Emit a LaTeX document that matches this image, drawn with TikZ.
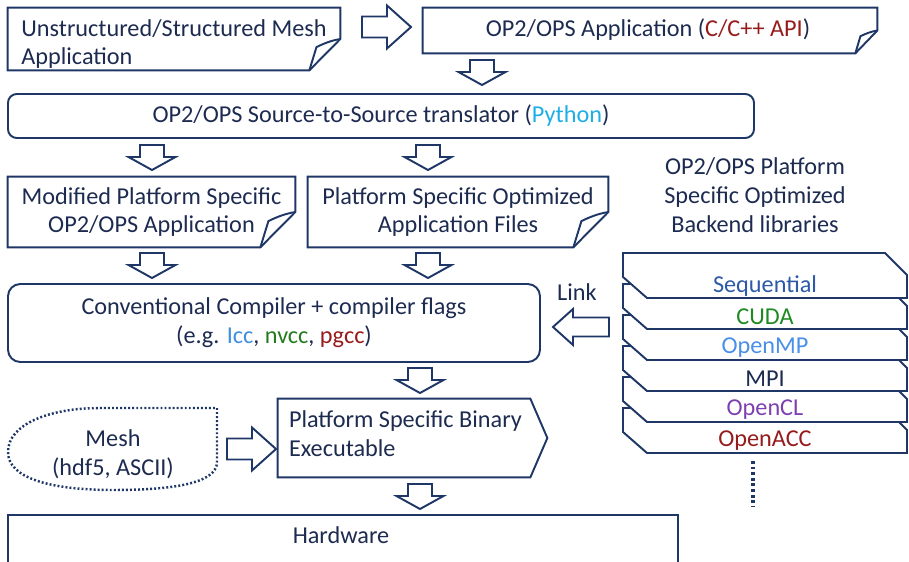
\documentclass[tikz,border=0pt]{standalone}
\usepackage{fontspec}
\setmainfont{Carlito}
\usetikzlibrary{calc}
\usetikzlibrary{fit}
\usetikzlibrary{positioning}

\definecolor{navy}{HTML}{1D2B50}
\definecolor{lineblue}{HTML}{1F3766}
\definecolor{apired}{HTML}{961C1C}
\definecolor{pyblue}{HTML}{1EAEE6}
\definecolor{iccblue}{HTML}{3D8FE0}
\definecolor{nvgreen}{HTML}{247A1F}
\definecolor{seqblue}{HTML}{2D5AA8}
\definecolor{cudagreen}{HTML}{1F8A22}
\definecolor{ompblue}{HTML}{4A8FE8}
\definecolor{clpurple}{HTML}{7D40B0}

\tikzset{
  boxline/.style={draw=lineblue, line width=1.1pt, line join=miter},
  box/.style={inner sep=0pt},
  roundbox/.style={box, boxline, rounded corners=#1},
  txt/.style={inner sep=0pt, align=center, text=navy},
  pics/downarrow/.style={code={
    \draw[boxline] (-12,0) -- (12,0) -- (12,12) -- (23.5,12) -- (0,25)
      -- (-23.5,12) -- (-12,12) -- cycle;}},
  pics/rightarrow/.style={code={
    \draw[boxline] (0,-10.5) -- (25,-10.5) -- (25,-21.5) -- (49,0)
      -- (25,21.5) -- (25,10.5) -- (0,10.5) -- cycle;}},
  pics/leftarrow/.style={code={
    \draw[boxline] (0,0) -- (20,-18) -- (20,-9.5) -- (56,-9.5)
      -- (56,9.5) -- (20,9.5) -- (20,18) -- cycle;}},
}

% page outline with a dog-eared bottom right corner
\newcommand{\foldbox}[2]{%
  \draw[boxline] (#1.north west) -- (#1.north east) -- (#1.east)
    -- ($(#1.south east)+(-#2,0)$) -- (#1.south west) -- cycle;
  \draw[boxline] (#1.east) .. controls +(-0.3*#2,0.05*#2) and +(0.25*#2,-0.12*#2) ..
    ($(#1.east)+(-0.77*#2,0.26*#2)$) -- ($(#1.south east)+(-#2,0)$);
}

\begin{document}
\begin{tikzpicture}[x=0.02cm, y=-0.02cm, font=\fontsize{13.8}{16.4}\selectfont]
  \useasboundingbox (0,0) rectangle (909,561);
  \clip (0,0) rectangle (909,561);

  % input application and its OP2/OPS version
  \node[box, fit={(8,8) (340,70)}] (src) {};
  \foldbox{src}{31}
  \node[txt, align=left] (src-text) at ($(src.center)+(0,5)$)
    {Unstructured/Structured Mesh\\Application};
  \pic at (362,27) {rightarrow};
  \node[box, fit={(423,8) (877,53)}] (opapp) {};
  \foldbox{opapp}{22}
  \node[txt] (opapp-text) at ($(opapp.center)+(-2,-1)$)
    {OP2/OPS Application (\textcolor{apired}{C/C++ API})};
  \pic at (482,60) {downarrow};

  % translator
  \node[roundbox=5pt, fit={(8,94) (754,138)}] (trans) {};
  \node[txt] (trans-text) at (trans.center)
    {OP2/OPS Source-to-Source translator (\textcolor{pyblue}{Python})};
  \pic at (152,145) {downarrow};
  \pic at (428,145) {downarrow};

  % generated code
  \node[box, fit={(8,177) (295,247)}] (modapp) {};
  \foldbox{modapp}{35}
  \node[txt] (modapp-text) at (modapp.center)
    {Modified Platform Specific\\OP2/OPS Application};
  \node[box, fit={(308,177) (608,247)}] (optfiles) {};
  \foldbox{optfiles}{35}
  \node[txt] (optfiles-text) at (optfiles.center)
    {Platform Specific Optimized\\Application Files};
  \pic at (152,253) {downarrow};
  \pic at (428,253) {downarrow};

  % compiler
  \node[roundbox=7pt, fit={(8,284) (540,362)}] (compiler) {};
  \node[txt] (compiler-text) at (compiler.center)
    {Conventional Compiler + compiler flags\\
     (e.g. \textcolor{iccblue}{Icc}, \textcolor{nvgreen}{nvcc}, \textcolor{apired}{pgcc})};
  \pic at (553,327) {leftarrow};
  \node[txt] (link) at (577,292) {Link};
  \pic at (420,368) {downarrow};

  % executable and mesh input
  \node[box, fit={(278,399) (530,477)}] (binary) {};
  \draw[boxline] (binary.north west) -- (binary.north east)
    -- ($(binary.east)+(17,0)$) -- (binary.south east) -- (binary.south west) -- cycle;
  \node[txt, align=left, anchor=west] (binary-text) at ($(binary.west)+(11,-4)$)
    {Platform Specific Binary\\Executable};
  \draw[draw=lineblue, line width=1.4pt, dash pattern=on 1.1pt off 1.2pt]
    (217,408) -- (217,462) .. controls (217,484) and (170,490) .. (113,490)
    .. controls (50,490) and (8,478) .. (8,452)
    .. controls (8,424) and (50,408) .. (100,408) -- cycle;
  \node[txt] (mesh) at (113,454) {Mesh\\(hdf5, ASCII)};
  \pic at (227,449) {rightarrow};
  \pic at (420,484) {downarrow};

  % hardware
  \node[box, fit={(8,515) (678,555)}] (hw) {};
  \draw[boxline] ($(hw.south west)+(0,20)$) -- (hw.north west) -- (hw.north east)
    -- ($(hw.south east)+(0,20)$);
  \node[txt] (hw-text) at (341,535) {Hardware};

  % backend libraries, stacked back to front
  \node[txt] (backend) at (755,195)
    {OP2/OPS Platform\\Specific Optimized\\Backend libraries};
  \foreach \lbl/\col [count=\k] in {OpenACC/apired, OpenCL/clpurple, MPI/navy,
      OpenMP/ompblue, CUDA/cudagreen, Sequential/seqblue} {
    \pgfmathsetmacro\top{253+31*(6-\k)}
    \draw[boxline, fill=white] (623,\top) -- ++(262,0) -- ++(22,22) -- ++(0,23)
      -- ++(-260,0) -- ++(-24,-21) -- cycle;
    \node[txt, text=\col] (lib-\k) at (765,\top+33) {\lbl};
  }
  \coordinate (more-top) at (753,461);
  \coordinate (more-bot) at (753,507);
  \draw[draw=lineblue, line width=1.8pt, dash pattern=on 1.6pt off 1.6pt]
    (more-top) -- (more-bot);
\end{tikzpicture}
\end{document}
